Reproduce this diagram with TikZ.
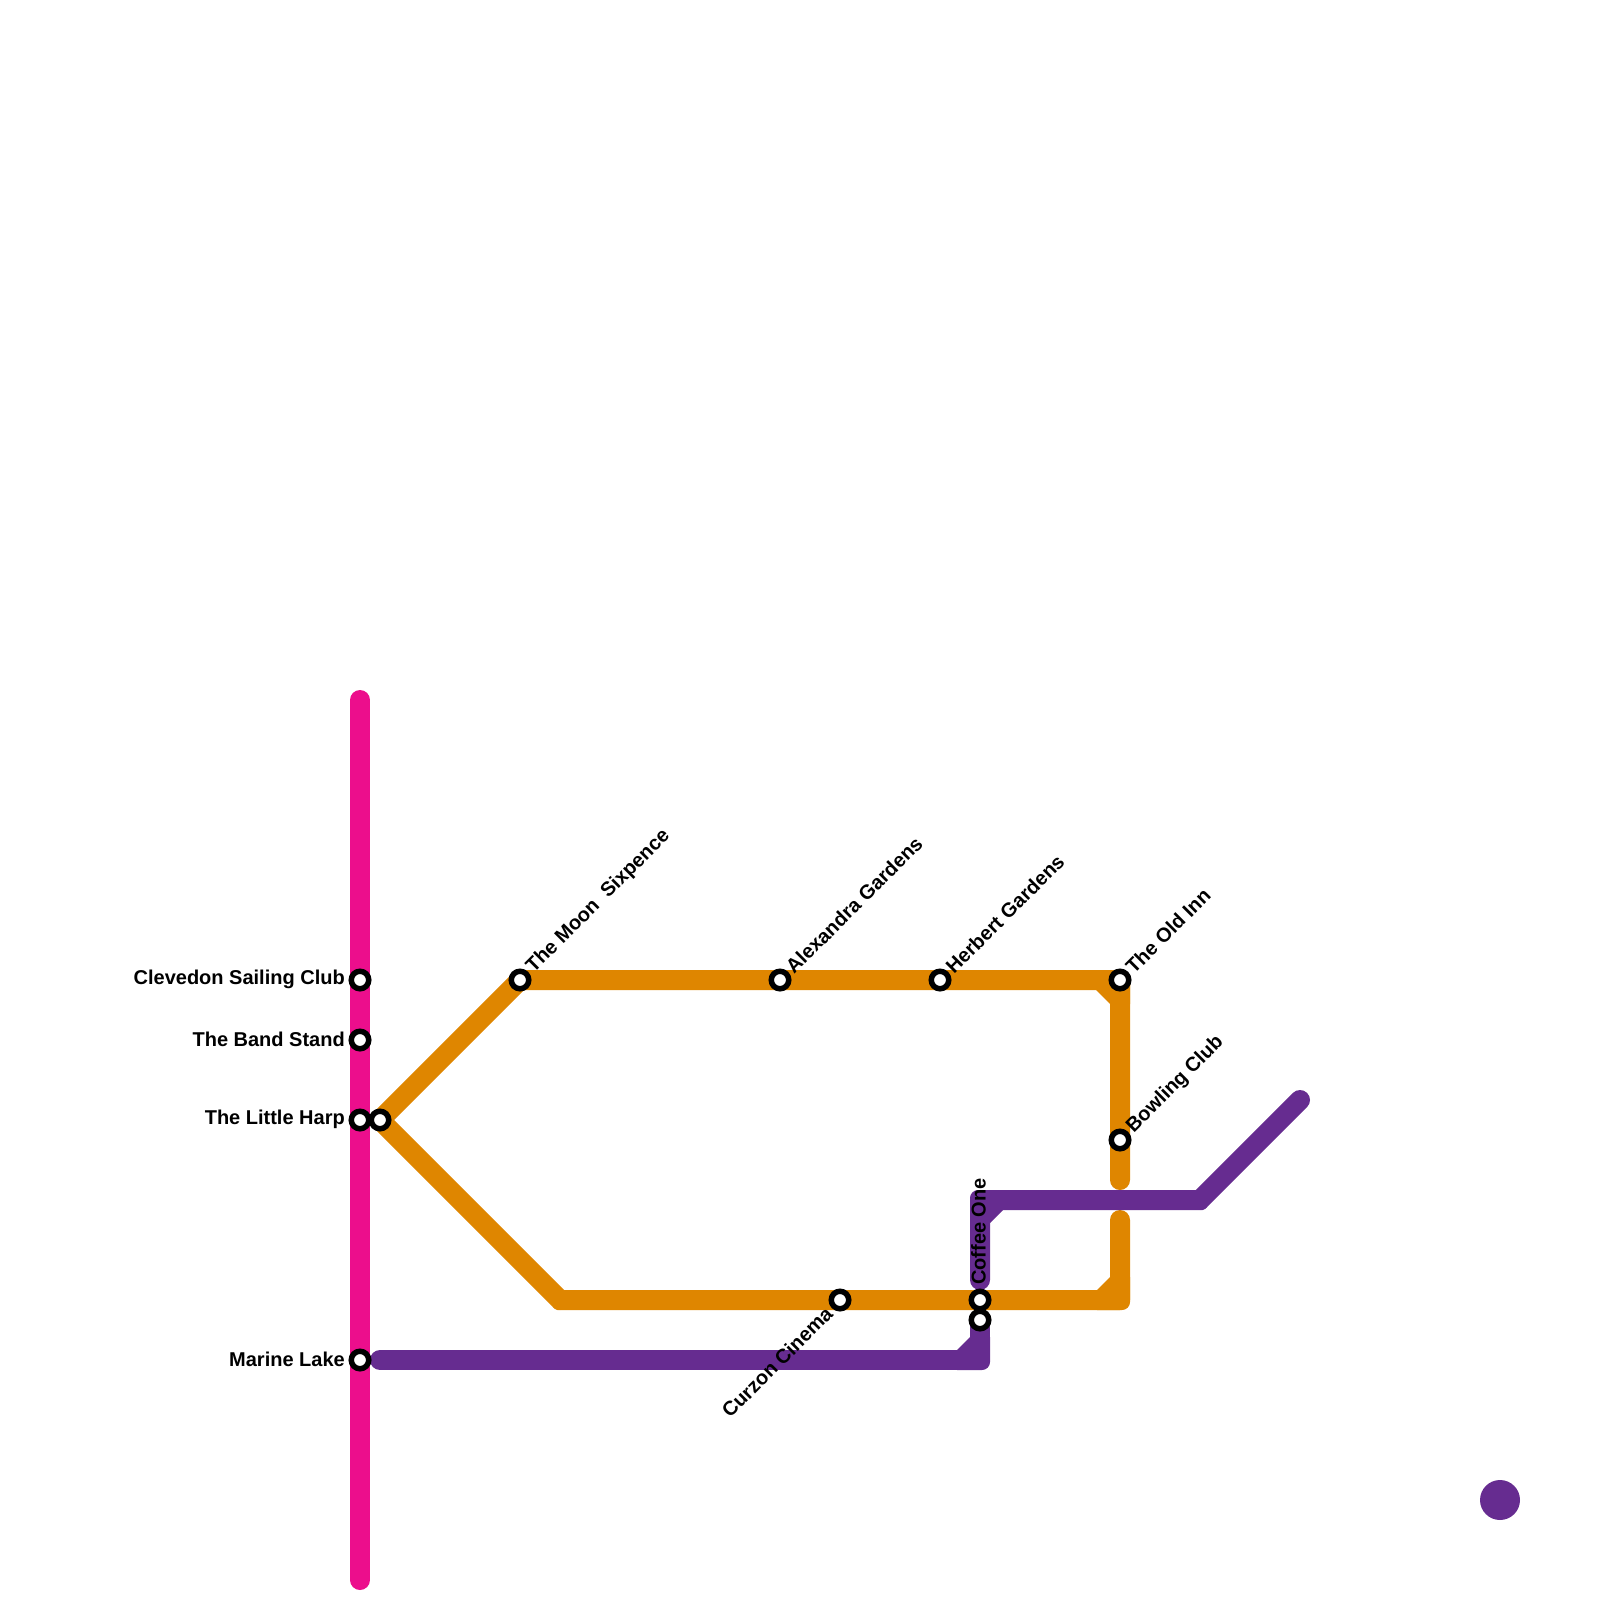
\documentclass[tikz,border=0pt]{standalone}
\usepackage{fontspec}
\setmainfont{Liberation Sans}
\definecolor{lineorange}{HTML}{DF8600}
\definecolor{linepurple}{HTML}{662C90}
\definecolor{linepink}{HTML}{EC0E8C}
\tikzset{
  route/.style={line width=20pt,line cap=round,line join=round},
  stn/.style={circle,draw=black,fill=white,line width=5.5pt,minimum size=17.5pt,inner sep=0pt,outer sep=0pt},
  lbl/.style={font=\bfseries\fontsize{20}{22}\selectfont,inner sep=0pt,text=black},
  lblw/.style={lbl,anchor=east},
  lbld/.style={lbl,anchor=west,rotate=45},
  lblc/.style={lbl,anchor=east,rotate=45},
  lblv/.style={lbl,anchor=west,rotate=90},
}
\begin{document}
\begin{tikzpicture}[x=1pt,y=-1pt]
\useasboundingbox (0,0) rectangle (1600,1600);
% free route ends and bends
\coordinate (pinkT) at (360,700);
\coordinate (pinkB) at (360,1580);
\coordinate (oTL) at (520,980);
\coordinate (oTR) at (1120,980);
\coordinate (oGapT) at (1120,1180);
\coordinate (oGapB) at (1120,1220);
\coordinate (oBR) at (1120,1300);
\coordinate (oBL) at (560,1300);
\coordinate (oW) at (380,1120);
\coordinate (pW) at (380,1360);
\coordinate (pBR) at (980,1360);
\coordinate (pS) at (980,1320);
\coordinate (pN) at (980,1280);
\coordinate (pTL) at (980,1200);
\coordinate (pTR) at (1200,1200);
\coordinate (pE) at (1300,1100);
% pink
\draw[route,linepink] (pinkT) -- (pinkB);
% orange
\draw[route,lineorange] (oW) -- (oTL) -- (oTR) -- (oGapT);
\draw[route,lineorange] (oGapB) -- (oBR) -- (oBL) -- (oW);
\fill[lineorange] (1096,990) -- (1110,1004) -- (1130,1004) -- (1130,978) .. controls (1130,973.6) and (1126.4,970) .. (1122,970) -- (1096,970) -- cycle;
\fill[lineorange] (1097,1290) -- (1110,1277) -- (1130,1277) -- (1130,1302) .. controls (1130,1306.4) and (1126.4,1310) .. (1122,1310) -- (1097,1310) -- cycle;
\fill[lineorange] (560,1300) -- (552.93,1307.07) -- (555,1309) -- (557.5,1310) -- (560,1310) -- cycle;
% purple
\draw[route,linepurple] (pW) -- (pBR) -- (pS);
\draw[route,linepurple] (pN) -- (pTL) -- (pTR) -- (pE);
\fill[linepurple] (957,1350) -- (970,1337) -- (990,1337) -- (990,1362) .. controls (990,1366.4) and (986.4,1370) .. (982,1370) -- (957,1370) -- cycle;
\fill[linepurple] (1003,1210) -- (990,1223) -- (970,1223) -- (970,1198) .. controls (970,1193.6) and (973.6,1190) .. (978,1190) -- (1003,1190) -- cycle;
\fill[linepurple] (1200,1200) -- (1200,1210) -- (1202.5,1210) -- (1205,1209) -- (1207.07,1207.07) -- cycle;
% legend dot
\node[circle,fill=linepurple,minimum size=40pt,inner sep=0pt,outer sep=0pt] (legend) at (1500,1500) {};
% stations
\node[stn] (clevedon) at (360,980) {};
\node[stn] (band) at (360,1040) {};
\node[stn] (harp) at (360,1120) {};
\node[stn] (marine) at (360,1360) {};
\node[stn] (moonW) at (380,1120) {};
\node[stn] (moon) at (520,980) {};
\node[stn] (alex) at (780,980) {};
\node[stn] (herbert) at (940,980) {};
\node[stn] (oldinn) at (1120,980) {};
\node[stn] (bowling) at (1120,1140) {};
\node[stn] (curzon) at (840,1300) {};
\node[stn] (coffee) at (980,1300) {};
\node[stn] (coffeeS) at (980,1320) {};
% labels
\node[lblw] (tClevedon) at (345,979) {Clevedon Sailing Club};
\node[lblw] (tBand) at (345,1039) {The Band Stand};
\node[lblw] (tHarp) at (345,1119) {The Little Harp};
\node[lblw] (tMarine) at (345,1359) {Marine Lake};
\node[lbld] (tMoon) at (530,970) {The Moon\ \ Sixpence};
\node[lbld] (tAlex) at (789,970) {Alexandra Gardens};
\node[lbld] (tHerbert) at (949,970) {Herbert Gardens};
\node[lbld] (tOld) at (1129,970) {The Old Inn};
\node[lbld] (tBowling) at (1130,1130) {Bowling Club};
\node[lblc] (tCurzon) at (829,1310) {Curzon Cinema};
\node[lblv] (tCoffee) at (978.5,1285) {Coffee One};
\end{tikzpicture}
\end{document}
